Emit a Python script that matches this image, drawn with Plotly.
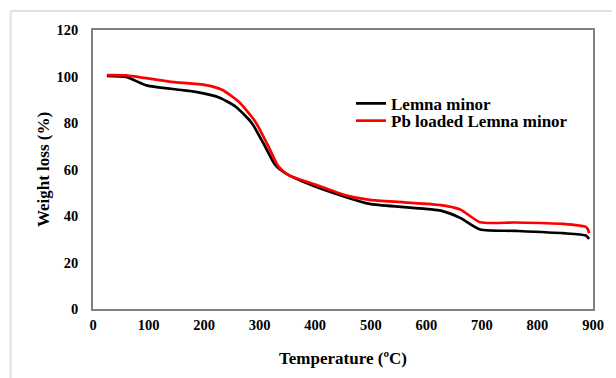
import plotly.graph_objects as go

temp_black = [25, 60, 96, 155, 185, 227, 257, 286, 310, 328, 346, 393, 453, 498, 560, 626, 661, 697, 760, 846, 887, 893]
wl_black = [100.3, 99.8, 96.2, 94.3, 93.4, 91.0, 87.0, 79.9, 69.8, 62.0, 58.4, 53.3, 48.3, 45.2, 43.8, 42.3, 39.2, 34.2, 33.6, 32.6, 31.6, 30.2]

temp_red = [25, 60, 137, 203, 233, 262, 292, 316, 334, 352, 400, 453, 498, 560, 626, 661, 697, 760, 846, 887, 891, 893]
wl_red = [100.6, 100.5, 97.8, 96.3, 94.2, 89.2, 80.6, 69.8, 61.2, 57.6, 53.5, 49.0, 46.9, 45.9, 44.7, 42.8, 37.3, 37.2, 36.6, 35.3, 34.2, 32.6]

x_ticks = [0, 100, 200, 300, 400, 500, 600, 700, 800, 900]
y_ticks = [0, 20, 40, 60, 80, 100, 120]

font_family = "Liberation Serif"

fig = go.Figure()
fig.add_trace(go.Scatter(x=temp_black, y=wl_black, mode="lines", name="<b>Lemna minor</b>",
                         legend="legend",
                         line=dict(color="black", width=2.7, shape="spline", smoothing=0.6)))
fig.add_trace(go.Scatter(x=temp_red, y=wl_red, mode="lines", name="<b>Pb loaded Lemna minor</b>",
                         legend="legend2",
                         line=dict(color="#ff0000", width=2.7, shape="spline", smoothing=0.6)))

leg_common = dict(xanchor="left", yanchor="top",
                  font=dict(family=font_family, size=17, color="black"),
                  bgcolor="rgba(0,0,0,0)", itemwidth=30)

fig.update_layout(
    width=616, height=378,
    margin=dict(l=93, r=19, t=30, b=69),
    paper_bgcolor="white", plot_bgcolor="white",
    font=dict(family=font_family, color="black"),
    showlegend=True,
    legend=dict(x=0.516, y=0.80, **leg_common),
    legend2=dict(x=0.516, y=0.738, **leg_common),
    xaxis=dict(range=[0, 900], tickvals=x_ticks, ticktext=[f"<b>{t}</b>" for t in x_ticks],
               showgrid=False, zeroline=False, showline=True, linecolor="#808080", linewidth=1.5,
               mirror=True, ticks="", ticklabelstandoff=2,
               tickfont=dict(size=14.5, family=font_family, color="black"),
               title=dict(text="<b>Temperature (ºC)</b>", font=dict(size=17, family=font_family, color="black"),
                          standoff=20)),
    yaxis=dict(range=[0, 120], tickvals=y_ticks, ticktext=[f"<b>{t}</b>" for t in y_ticks],
               showgrid=False, zeroline=False, showline=True, linecolor="#808080", linewidth=1.5,
               mirror=True, ticks="", ticklabelstandoff=10,
               tickfont=dict(size=14.5, family=font_family, color="black"),
               title=dict(text="<b>Weight loss (%)</b>", font=dict(size=17, family=font_family, color="black"),
                          standoff=3)),
    shapes=[
        dict(type="line", xref="paper", yref="paper", x0=(10 - 93) / 504, x1=(616 - 93) / 504,
             y0=(309 - 11) / 279, y1=(309 - 11) / 279, line=dict(color="#e0e0e0", width=2)),
        dict(type="line", xref="paper", yref="paper", x0=(10 - 93) / 504, x1=(10 - 93) / 504,
             y0=(309 - 11) / 279, y1=(309 - 380) / 279, line=dict(color="#e0e0e0", width=2)),
    ],
)

fig.write_html("out.html")
